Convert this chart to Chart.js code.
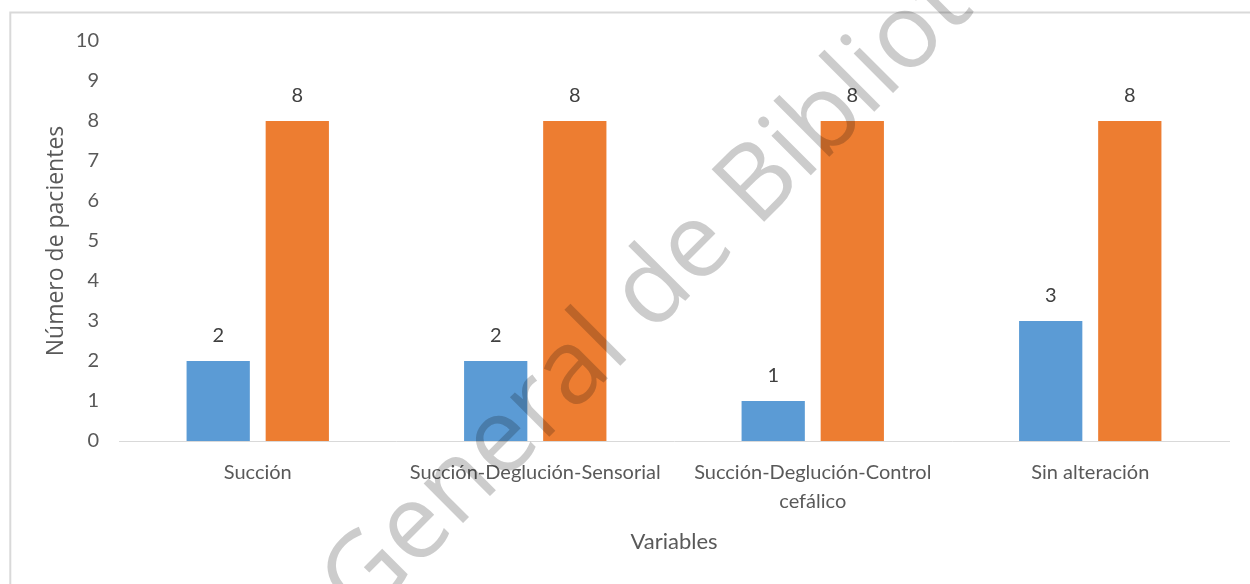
<!DOCTYPE html>
<html>
<head>
<meta charset="utf-8">
<script src="https://cdn.jsdelivr.net/npm/chart.js@4.4.1/dist/chart.umd.min.js"></script>
<style>
  html, body { margin: 0; padding: 0; background: #ffffff; }
  #wrap { width: 1250px; height: 584px; position: relative; }
</style>
</head>
<body>
<div id="wrap"><canvas id="chart" width="1250" height="584"></canvas></div>
<script>
// Categories (multi-line labels as arrays)
const categories = [
  ["Succión"],
  ["Succión-Deglución-Sensorial"],
  ["Succión-Deglución-Control", "cefálico"],
  ["Sin alteración"]
];
// Patient counts per category
const serieAzul = [2, 2, 1, 3];
const serieNaranja = [8, 8, 8, 8];
// Y axis range
const yMin = 0;
const yMax = 10;
const yStep = 1;

const axisTitleX = "Variables";
const axisTitleY = "Número de pacientes";
const watermark = "General de Biblioteca";

const textColor = "#595959";
const labelColor = "#404040";
const tickFont = { family: "Lato", size: 20, lineHeight: 1.45 };

// Light frame around the chart
const framePlugin = {
  id: "frame",
  beforeDraw(chart) {
    const { ctx, width, height } = chart;
    ctx.save();
    ctx.fillStyle = "#ffffff";
    ctx.fillRect(0, 0, width, height);
    ctx.strokeStyle = "#d9d9d9";
    ctx.lineWidth = 2;
    ctx.strokeRect(10.3, 12.5, width + 40, height + 40);
    ctx.restore();
  }
};

// Value labels above every bar
const valueLabelPlugin = {
  id: "valueLabels",
  afterDatasetsDraw(chart) {
    const { ctx } = chart;
    ctx.save();
    ctx.fillStyle = labelColor;
    ctx.font = "20px Lato";
    ctx.textAlign = "center";
    ctx.textBaseline = "middle";
    chart.data.datasets.forEach((ds, i) => {
      const meta = chart.getDatasetMeta(i);
      meta.data.forEach((bar, j) => {
        ctx.fillText(String(ds.data[j]), bar.x, bar.y - 25);
      });
    });
    ctx.restore();
  }
};

// Diagonal watermark text laid over the whole chart
const watermarkPlugin = {
  id: "watermark",
  afterDraw(chart) {
    const { ctx } = chart;
    ctx.save();
    ctx.globalCompositeOperation = "multiply";
    ctx.fillStyle = "rgb(204,204,204)";
    ctx.font = '104px "Open Sans"';
    ctx.textBaseline = "alphabetic";
    ctx.textAlign = "left";
    ctx.translate(757, 229);
    ctx.rotate(-Math.PI / 4);
    const lead = ctx.measureText("General de ").width;
    ctx.fillText(watermark, -lead, 0);
    ctx.restore();
  }
};

new Chart(document.getElementById("chart"), {
  type: "bar",
  data: {
    labels: categories,
    datasets: [
      {
        label: "Serie 1",
        data: serieAzul,
        backgroundColor: "#5B9BD5",
        borderWidth: 0,
        categoryPercentage: 0.57,
        barPercentage: 0.8
      },
      {
        label: "Serie 2",
        data: serieNaranja,
        backgroundColor: "#ED7D31",
        borderWidth: 0,
        categoryPercentage: 0.57,
        barPercentage: 0.8
      }
    ]
  },
  options: {
    responsive: false,
    animation: false,
    devicePixelRatio: 1,
    layout: { padding: { top: 41, right: 21, left: 0, bottom: 0 } },
    plugins: {
      legend: { display: false },
      tooltip: { enabled: false }
    },
    scales: {
      x: {
        grid: { display: false, drawTicks: false },
        border: { display: true, color: "#d9d9d9", width: 1 },
        ticks: { color: textColor, font: tickFont, padding: 17, maxRotation: 0, autoSkip: false },
        title: {
          display: true,
          text: axisTitleX,
          color: textColor,
          font: { family: "Lato", size: 22, lineHeight: 1.2 },
          padding: { top: 29, bottom: 29 }
        },
        afterFit(scale) { scale.height = 143; }
      },
      y: {
        min: yMin,
        max: yMax,
        grid: { display: false, drawTicks: false },
        border: { display: false },
        ticks: { stepSize: yStep, color: textColor, font: { family: "Lato", size: 20 }, padding: 20 },
        title: {
          display: true,
          text: axisTitleY,
          color: textColor,
          font: { family: "Open Sans", size: 23, lineHeight: 1.2 },
          padding: { top: 43, bottom: 43 }
        },
        afterFit(scale) { scale.width = 119; }
      }
    }
  },
  plugins: [framePlugin, valueLabelPlugin, watermarkPlugin]
});
</script>
</body>
</html>
